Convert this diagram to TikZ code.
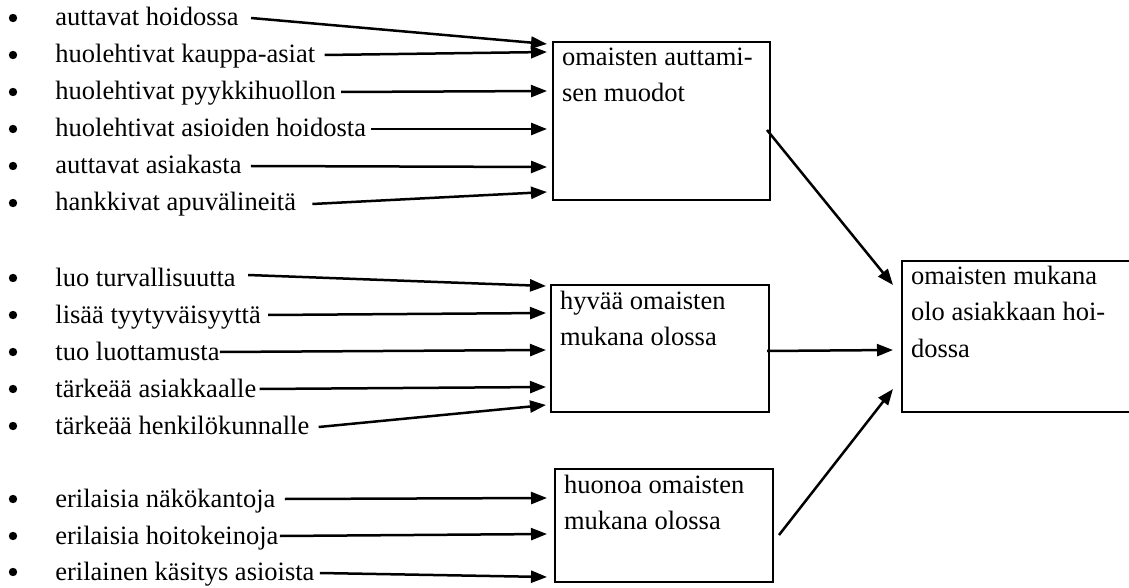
\documentclass[tikz,border=0pt]{standalone}
\usepackage{fontspec}
\setmainfont{Liberation Serif}
\usetikzlibrary{arrows.meta,calc}

\newcommand{\labelfont}{\fontsize{13.25pt}{18pt}\selectfont}
% framed text block: width, height, text (first baseline 12pt below the top)
\newcommand{\boxtext}[3]{\parbox[t][#2][t]{#1}{\labelfont\raggedright\leftskip=4.5pt
  \rule{0pt}{12pt}#3}}

\tikzset{
  item/.style={anchor=base west, inner sep=0pt, font=\labelfont},
  dot/.style={circle, fill=black, inner sep=0pt, minimum size=4.2pt},
  box/.style={draw, line width=1pt, inner sep=0pt, anchor=north west},
  arr/.style={line width=1.25pt, -{Triangle[length=8pt,width=6pt]}},
}

\begin{document}
\begin{tikzpicture}[x=0.5pt, y=-0.5pt]
\useasboundingbox (0,0) rectangle (1129,588);

% boxes
\node[box] (b1) at (552,41)  {\boxtext{108.5pt}{79pt}{omaisten auttami-\\sen muodot}};
\node[box] (b2) at (550,284) {\boxtext{109pt}{63.5pt}{hyvää omaisten\\mukana olossa}};
\node[box] (b3) at (554,468) {\boxtext{109pt}{56.5pt}{huonoa omaisten\\mukana olossa}};
\node[box] (b4) at (901,260) {\boxtext{120pt}{75.5pt}{omaisten mukana\\olo asiakkaan hoi-\\dossa}};

% bulleted items
\foreach \n/\y/\t in {
  1/26/auttavat hoidossa,
  2/63/huolehtivat kauppa-asiat,
  3/100/huolehtivat pyykkihuollon,
  4/137/huolehtivat asioiden hoidosta,
  5/174/auttavat asiakasta,
  6/211/hankkivat apuvälineitä,
  7/286/luo turvallisuutta,
  8/323/lisää tyytyväisyyttä,
  9/360/tuo luottamusta,
  10/397/tärkeää asiakkaalle,
  11/434/tärkeää henkilökunnalle,
  12/507/erilaisia näkökantoja,
  13/544/erilaisia hoitokeinoja,
  14/580/erilainen käsitys asioista}{
  \node[dot] (d\n) at (13,\y-8) {};
  \node[item] (t\n) at (55,\y) {\t};
}

% arrow ends beside the boxes
\foreach \n/\dy in {1/3, 2/11, 3/50, 4/88, 5/126, 6/151}
  \coordinate (e\n) at ($(b1.north west)+(-5,\dy)$);
\foreach \n/\dy in {7/2, 8/29, 9/66, 10/103, 11/121}
  \coordinate (e\n) at ($(b2.north west)+(-4,\dy)$);
\foreach \n/\dy in {12/30, 13/66, 14/109}
  \coordinate (e\n) at ($(b3.north west)+(-7,\dy)$);

% item arrows
\foreach \n/\g/\v in {1/12/-8, 2/9/-8, 3/5/-8, 4/5/-8, 5/9/-8, 6/16/-7,
                      7/12/-11, 8/7/-8, 9/0/-8, 10/3/-8, 11/9/-7,
                      12/9/-8, 13/1/-8, 14/5/-7}
  \draw[arr] ($(t\n.base east)+(\g,\v)$) -- (e\n);

% arrows into the result box
\draw[arr] ($(b1.north east)+(-4,89)$) -- ($(b4.north west)+(-8,25)$);
\draw[arr] ($(b2.north east)+(-3,67)$) -- ($(b4.north west)+(-8,90)$);
\draw[arr] ($(b3.north east)+(5,67)$)  -- ($(b4.north west)+(-8,129)$);
\end{tikzpicture}
\end{document}
